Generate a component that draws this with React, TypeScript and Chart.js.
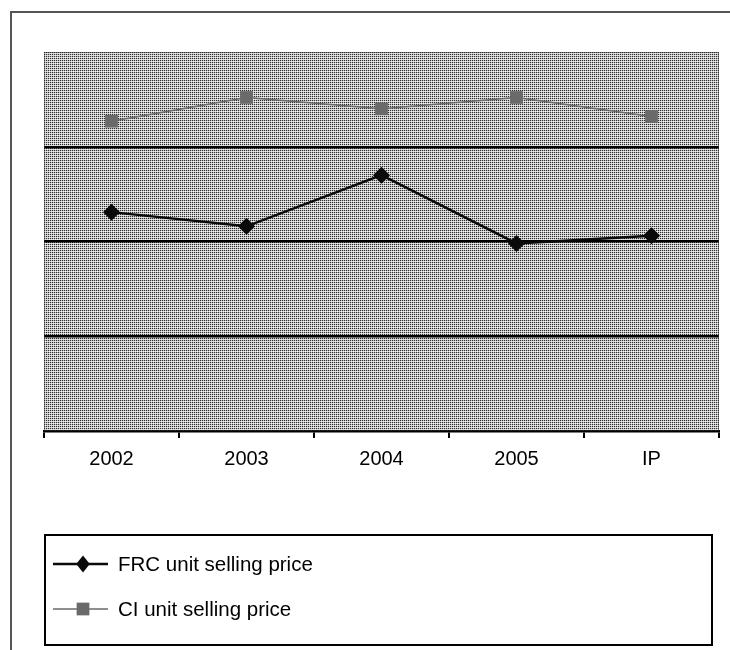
import React, { useEffect, useRef } from "react";
import { Chart, registerables } from "chart.js";

Chart.register(...registerables);

const categories = ["2002", "2003", "2004", "2005", "IP"];
const frcPrice = [2.31, 2.16, 2.7, 1.98, 2.06];
const ciPrice = [3.27, 3.52, 3.4, 3.52, 3.32];
const yTicks = [0, 1, 2, 3, 4];
const seriesLabels = ["FRC unit selling price", "CI unit selling price"];

const FONT = '"Liberation Sans", Arial, sans-serif';

function makePattern(ctx: CanvasRenderingContext2D) {
  const c = document.createElement("canvas");
  c.width = 2;
  c.height = 2;
  const p = c.getContext("2d")!;
  p.fillStyle = "#2e2e2e";
  p.fillRect(0, 0, 1, 1);
  p.fillStyle = "#bdbdbd";
  p.fillRect(1, 0, 1, 1);
  p.fillStyle = "#cfcfcf";
  p.fillRect(0, 1, 1, 1);
  p.fillStyle = "#ececec";
  p.fillRect(1, 1, 1, 1);
  return ctx.createPattern(c, "repeat");
}

const decorPlugin = {
  id: "decor",
  beforeDraw(chart: any) {
    const { ctx, chartArea } = chart;
    ctx.save();
    ctx.strokeStyle = "#555555";
    ctx.lineWidth = 2;
    ctx.beginPath();
    ctx.moveTo(11, 660);
    ctx.lineTo(11, 12);
    ctx.lineTo(740, 12);
    ctx.stroke();
    const pat = makePattern(ctx);
    if (pat) {
      ctx.fillStyle = pat;
      ctx.fillRect(
        chartArea.left,
        chartArea.top,
        chartArea.right - chartArea.left,
        chartArea.bottom - chartArea.top
      );
    }
    ctx.restore();
  },
  beforeDatasetsDraw(chart: any) {
    const { ctx, chartArea } = chart;
    ctx.save();
    ctx.strokeStyle = "#333333";
    ctx.lineWidth = 1;
    ctx.setLineDash([1, 1]);
    ctx.strokeRect(
      chartArea.left + 0.5,
      chartArea.top + 0.5,
      chartArea.right - chartArea.left - 1,
      chartArea.bottom - chartArea.top - 1
    );
    ctx.restore();
  },
  afterDraw(chart: any) {
    const { ctx } = chart;
    ctx.save();
    ctx.strokeStyle = "#000000";
    ctx.lineWidth = 2;
    ctx.strokeRect(45, 535, 667, 110);
    chart.data.datasets.forEach((ds: any, i: number) => {
      const y = 564 + i * 45;
      ctx.strokeStyle = ds.borderColor;
      ctx.lineWidth = ds.borderWidth;
      ctx.beginPath();
      ctx.moveTo(53, y);
      ctx.lineTo(108, y);
      ctx.stroke();
      ctx.fillStyle = ds.pointBackgroundColor;
      const cx = 83;
      if (ds.pointStyle === "rectRot") {
        const r = ds.pointRadius;
        ctx.beginPath();
        ctx.moveTo(cx, y - r);
        ctx.lineTo(cx + r * 0.8, y);
        ctx.lineTo(cx, y + r);
        ctx.lineTo(cx - r * 0.8, y);
        ctx.closePath();
        ctx.fill();
      } else {
        const s = ds.pointRadius * Math.SQRT1_2;
        ctx.fillRect(cx - s, y - s, 2 * s, 2 * s);
      }
      ctx.fillStyle = "#000000";
      ctx.font = `20.5px ${FONT}`;
      ctx.textBaseline = "middle";
      ctx.textAlign = "left";
      ctx.fillText(ds.label, 118, y + 1);
    });
    ctx.restore();
  },
};

export default function App() {
  const ref = useRef<HTMLCanvasElement | null>(null);

  useEffect(() => {
    if (!ref.current) return;
    const chart = new Chart(ref.current, {
      type: "line",
      data: {
        labels: categories,
        datasets: [
          {
            label: seriesLabels[0],
            data: frcPrice,
            borderColor: "#0a0a0a",
            borderWidth: 2.5,
            pointStyle: "rectRot",
            pointRadius: 8.5,
            pointBackgroundColor: "#0a0a0a",
            pointBorderColor: "#0a0a0a",
            pointBorderWidth: 0,
            tension: 0,
          },
          {
            label: seriesLabels[1],
            data: ciPrice,
            borderColor: "#6a6a6a",
            borderWidth: 1.5,
            pointStyle: "rect",
            pointRadius: 9,
            pointBackgroundColor: "#6a6a6a",
            pointBorderColor: "#6a6a6a",
            pointBorderWidth: 0,
            tension: 0,
          },
        ],
      },
      options: {
        animation: false,
        responsive: false,
        maintainAspectRatio: false,
        layout: { padding: { left: 44, top: 52, right: 11, bottom: 169 } },
        plugins: {
          legend: { display: false },
          tooltip: { enabled: false },
        },
        scales: {
          x: {
            offset: true,
            grid: {
              offset: true,
              drawOnChartArea: false,
              drawTicks: true,
              tickLength: 7,
              color: "#000000",
              lineWidth: 2,
            },
            border: { display: true, color: "#000000", width: 2.5 },
            ticks: {
              color: "#000000",
              font: { family: FONT, size: 20 },
              padding: 9,
              maxRotation: 0,
            },
            afterFit(scale: any) {
              scale.height = 50;
            },
          },
          y: {
            min: yTicks[0],
            max: yTicks[yTicks.length - 1],
            afterBuildTicks(scale: any) {
              scale.ticks = yTicks.map((v) => ({ value: v }));
            },
            ticks: { display: false },
            border: { display: false },
            grid: {
              drawTicks: false,
              lineWidth: 2.5,
              color: (c: any) =>
                c.tick && (c.tick.value === yTicks[0] || c.tick.value === yTicks[yTicks.length - 1])
                  ? "rgba(0,0,0,0)"
                  : "#000000",
            },
            afterFit(scale: any) {
              scale.width = 0;
            },
          },
        },
      },
      plugins: [decorPlugin],
    });
    return () => chart.destroy();
  }, []);

  return (
    <div style={{ position: "absolute", left: 0, top: 0, width: 730, height: 650, background: "#ffffff" }}>
      <canvas ref={ref} width={730} height={650} style={{ display: "block", width: 730, height: 650 }} />
    </div>
  );
}
